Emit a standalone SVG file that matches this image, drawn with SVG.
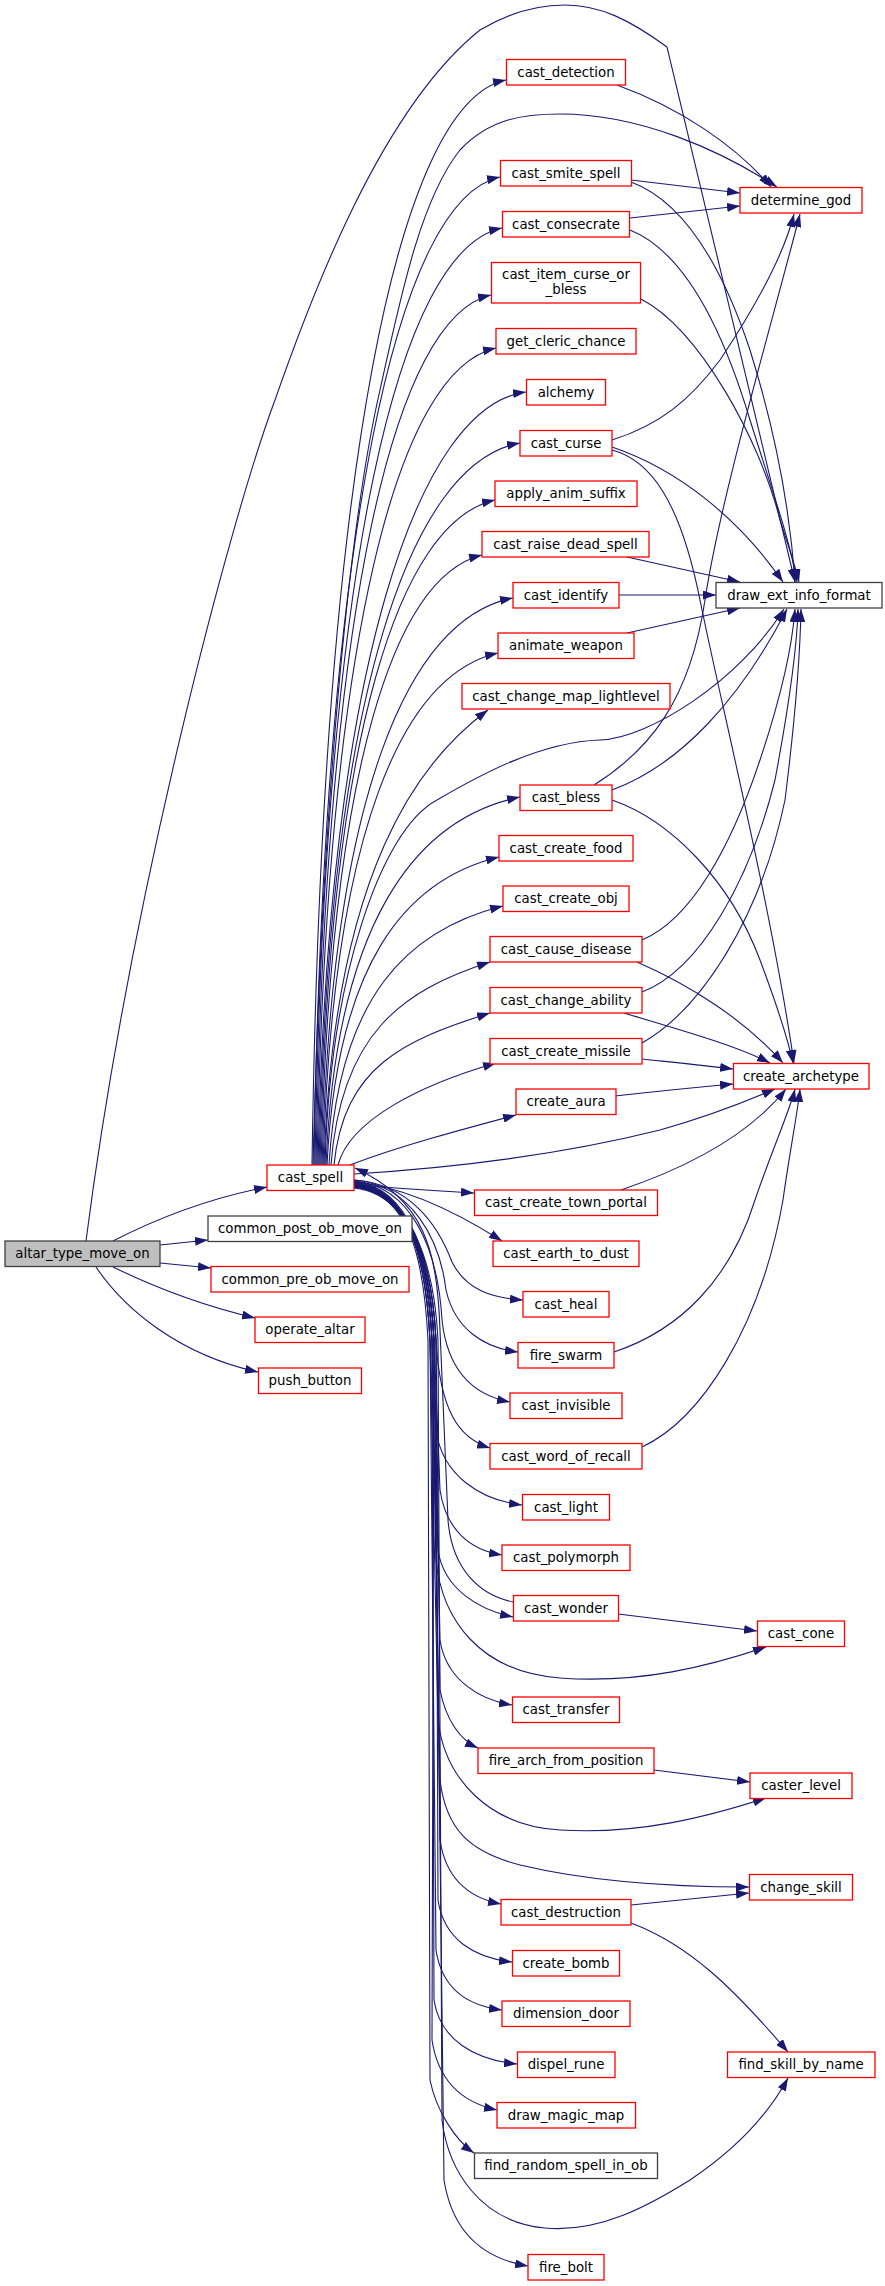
<svg xmlns="http://www.w3.org/2000/svg" width="885" height="2286" viewBox="0 0 885 2286">
<defs>
<style>
.n rect{fill:#ffffff;stroke:#ff0000;stroke-width:1.3}
.b rect{fill:#ffffff;stroke:#404040;stroke-width:1.3}
.g rect{fill:#bfbfbf;stroke:#404040;stroke-width:1.3}
text{font-family:"DejaVu Sans","Liberation Sans",sans-serif;font-size:13.33px;fill:#000;text-anchor:middle}
#edges path{fill:none;stroke:#191970;stroke-width:1.1;marker-end:url(#a)}
</style>
<marker id="a" markerWidth="13" markerHeight="9" refX="13" refY="4.5" orient="auto" markerUnits="userSpaceOnUse"><path d="M0,0 L13,4.5 L0,9 z" fill="#191970"/></marker>
</defs>
<rect width="885" height="2286" fill="#ffffff"/>
<g id="edges">
<path d="M113,1241 C150,1222 200,1200 267,1187"/>
<path d="M160,1245 L208,1240"/>
<path d="M160,1263 L211,1268"/>
<path d="M113,1267 C150,1285 200,1305 255,1318"/>
<path d="M96,1267 C125,1310 180,1355 258,1372"/>
<path d="M86,1241 C130,900 230,520 275,400 C310,300 380,110 480,30 C510,12 540,5 565,5 C600,5 630,20 667,47 C700,190 760,430 795,582"/>
<path d="M312,1165 C322,460 399,102 506,80"/>
<path d="M313,1165 C322,800 350,520 380,390 C400,300 420,200 460,150 C490,118 525,114 560,114 C640,114 720,150 777,187"/>
<path d="M314,1165 C324,523 398,199 500,177"/>
<path d="M315,1165 C325,556 399,250 502,228"/>
<path d="M316,1165 C326,600 395,317 491,295"/>
<path d="M317,1165 C327,634 398,370 496,348"/>
<path d="M318,1165 C328,662 420,405 526,392"/>
<path d="M319,1165 C329,696 410,463 520,443"/>
<path d="M320,1165 C330,733 399,522 495,500"/>
<path d="M321,1165 C331,768 394,577 482,555"/>
<path d="M322,1165 C332,796 408,618 513,598"/>
<path d="M323,1165 C333,832 402,675 498,653"/>
<path d="M324,1165 C334,869 420,760 488,710"/>
<path d="M325,1165 C330,980 380,830 437,800 C480,775 540,742 600,740 C650,738 740,680 784,609"/>
<path d="M326,1165 C336,926 413,819 520,797"/>
<path d="M327,1165 C337,965 404,880 499,857"/>
<path d="M329,1165 C339,997 407,930 503,906"/>
<path d="M331,1165 C341,1033 403,990 490,962"/>
<path d="M334,1165 C344,1066 404,1040 490,1013"/>
<path d="M338,1165 C350,1120 420,1085 496,1063"/>
<path d="M350,1165 C400,1146 460,1130 516,1115"/>
<path d="M354,1174 C450,1168 560,1155 660,1130 C710,1116 745,1102 775,1089"/>
<path d="M513,1602 C480,1595 452,1570 448,1520 L440,1330 C437,1250 425,1200 355,1168"/>
<path d="M354,1185 C390,1188 430,1190 474,1193"/>
<path d="M354,1182 C400,1186 450,1208 502,1241"/>
<path d="M354,1180 C410,1184 438,1225 452,1262 C466,1290 492,1298 523,1300"/>
<path d="M354,1180 C412,1185 440,1240 446,1290 C455,1330 485,1348 518,1352"/>
<path d="M354,1181 C412,1186 438,1250 442,1320 C448,1375 478,1396 510,1402"/>
<path d="M354,1181 C410,1187 432,1260 436,1340 C440,1410 458,1438 490,1448"/>
<path d="M354,1182 C410,1188 428,1260 432,1340 L436,1430 C442,1475 480,1500 522,1505"/>
<path d="M354,1182 C410,1188 430,1260 434,1340 L440,1490 C446,1530 470,1550 502,1555"/>
<path d="M354,1183 C410,1189 426,1260 430,1340 L438,1550 C444,1590 480,1610 513,1617"/>
<path d="M354,1183 C410,1189 428,1260 432,1340 L436,1560 C442,1620 480,1672 560,1678 C640,1684 710,1666 766,1647"/>
<path d="M354,1184 C410,1190 430,1260 434,1340 L440,1640 C446,1680 480,1700 512,1705"/>
<path d="M354,1184 C410,1190 432,1260 436,1340 L440,1690 C446,1720 460,1740 478,1748"/>
<path d="M354,1184 C410,1190 426,1260 430,1340 L438,1720 C445,1780 490,1826 560,1830 C640,1835 710,1816 766,1798"/>
<path d="M354,1185 C410,1191 428,1260 432,1340 L440,1780 C446,1830 470,1852 520,1865 C600,1884 690,1887 749,1887"/>
<path d="M354,1185 C410,1191 430,1260 434,1340 L440,1840 C446,1880 470,1898 501,1904"/>
<path d="M354,1186 C410,1192 432,1260 436,1340 L438,1900 C444,1940 475,1958 512,1962"/>
<path d="M354,1186 C410,1192 426,1260 430,1340 L436,1950 C442,1990 470,2006 502,2010"/>
<path d="M354,1186 C410,1192 428,1260 432,1340 L434,2000 C440,2040 475,2060 517,2064"/>
<path d="M354,1187 C410,1193 430,1260 434,1340 L432,2040 C438,2080 460,2102 497,2110"/>
<path d="M354,1187 C410,1193 424,1260 428,1340 L430,2080 C436,2110 455,2140 474,2153"/>
<path d="M354,1187 C410,1193 434,1260 438,1340 L442,2120 C448,2170 480,2222 545,2228 C600,2233 650,2205 690,2180 C735,2150 768,2115 788,2078"/>
<path d="M354,1188 C410,1194 430,1260 434,1340 L444,2180 C452,2230 480,2258 528,2266"/>
<path d="M617,85 C680,108 735,145 771,187"/>
<path d="M631,180 L740,193"/>
<path d="M630,218 L740,206"/>
<path d="M631,182 C680,200 720,260 750,350 C775,430 790,510 795,582"/>
<path d="M630,230 C680,250 720,320 750,420 C772,490 790,540 797,582"/>
<path d="M641,299 C700,330 760,440 780,520 C788,545 795,565 799,582"/>
<path d="M612,447 C680,470 740,520 783,582"/>
<path d="M612,440 C660,425 690,400 720,360 C760,300 785,250 794,214"/>
<path d="M612,450 C650,460 680,500 700,600 C720,700 770,900 794,1063"/>
<path d="M627,557 L740,582"/>
<path d="M619,595 L716,595"/>
<path d="M627,633 L740,608"/>
<path d="M594,785 C650,750 690,700 705,600 C720,500 770,330 800,214"/>
<path d="M612,790 C680,765 740,700 787,609"/>
<path d="M612,800 C670,820 730,880 760,960 C775,1000 788,1040 793,1063"/>
<path d="M642,940 C690,920 730,850 760,760 C780,700 792,650 795,609"/>
<path d="M642,992 C700,970 750,880 775,780 C790,700 797,650 798,609"/>
<path d="M642,1043 C700,1010 760,920 785,800 C795,720 800,660 801,609"/>
<path d="M637,962 C690,985 745,1020 783,1063"/>
<path d="M624,1013 C680,1030 735,1045 770,1063"/>
<path d="M642,1059 C680,1063 710,1066 733,1069"/>
<path d="M615,1096 C660,1091 700,1087 733,1084"/>
<path d="M621,1190 C680,1170 745,1140 786,1089"/>
<path d="M614,1352 C680,1330 730,1280 755,1200 C772,1150 790,1110 795,1089"/>
<path d="M642,1447 C700,1420 760,1330 783,1200 C790,1150 798,1110 800,1089"/>
<path d="M618,1614 L757,1631"/>
<path d="M654,1770 L750,1782"/>
<path d="M631,1905 L749,1893"/>
<path d="M631,1923 C690,1945 735,1990 788,2052"/>
</g>
<g id="altar_type_move_on" class="g"><rect x="5" y="1241" width="155" height="25.5"/><text x="82.5" y="1258.3">altar_type_move_on</text></g>
<g id="cast_spell" class="n"><rect x="267" y="1165" width="87" height="25.5"/><text x="310.5" y="1182.3">cast_spell</text></g>
<g id="common_post_ob_move_on" class="b"><rect x="208" y="1216" width="204" height="25.5"/><text x="310" y="1233.3">common_post_ob_move_on</text></g>
<g id="common_pre_ob_move_on" class="n"><rect x="211" y="1266.5" width="198" height="25.5"/><text x="310" y="1283.8">common_pre_ob_move_on</text></g>
<g id="operate_altar" class="n"><rect x="255" y="1317" width="110" height="25.5"/><text x="310" y="1334.3">operate_altar</text></g>
<g id="push_button" class="n"><rect x="258.5" y="1368" width="103" height="25.5"/><text x="310" y="1385.3">push_button</text></g>
<g id="cast_detection" class="n"><rect x="506.5" y="59.5" width="119" height="25.5"/><text x="566" y="76.8">cast_detection</text></g>
<g id="cast_smite_spell" class="n"><rect x="500.5" y="160.5" width="131" height="25.5"/><text x="566" y="177.8">cast_smite_spell</text></g>
<g id="cast_consecrate" class="n"><rect x="502.5" y="211.5" width="127" height="25.5"/><text x="566" y="228.8">cast_consecrate</text></g>
<g id="cast_item_curse_or_bless" class="n"><rect x="491.5" y="262.5" width="149" height="40.5"/><text x="566" y="279.3">cast_item_curse_or</text><text x="566" y="294.3">_bless</text></g>
<g id="get_cleric_chance" class="n"><rect x="496" y="328.5" width="140" height="25.5"/><text x="566" y="345.8">get_cleric_chance</text></g>
<g id="alchemy" class="n"><rect x="526.5" y="379.5" width="79" height="25.5"/><text x="566" y="396.8">alchemy</text></g>
<g id="cast_curse" class="n"><rect x="520" y="430.5" width="92" height="25.5"/><text x="566" y="447.8">cast_curse</text></g>
<g id="apply_anim_suffix" class="n"><rect x="495" y="481" width="142" height="25.5"/><text x="566" y="498.3">apply_anim_suffix</text></g>
<g id="cast_raise_dead_spell" class="n"><rect x="482" y="531.5" width="167" height="25.5"/><text x="565.5" y="548.8">cast_raise_dead_spell</text></g>
<g id="cast_identify" class="n"><rect x="513" y="582.5" width="106" height="25.5"/><text x="566" y="599.8">cast_identify</text></g>
<g id="animate_weapon" class="n"><rect x="498" y="633" width="136" height="25.5"/><text x="566" y="650.3">animate_weapon</text></g>
<g id="cast_change_map_lightlevel" class="n"><rect x="462" y="683.5" width="208" height="25.5"/><text x="566" y="700.8">cast_change_map_lightlevel</text></g>
<g id="cast_bless" class="n"><rect x="520" y="785" width="92" height="25.5"/><text x="566" y="802.3">cast_bless</text></g>
<g id="cast_create_food" class="n"><rect x="499" y="835.5" width="134" height="25.5"/><text x="566" y="852.8">cast_create_food</text></g>
<g id="cast_create_obj" class="n"><rect x="503" y="886" width="126" height="25.5"/><text x="566" y="903.3">cast_create_obj</text></g>
<g id="cast_cause_disease" class="n"><rect x="490" y="936.5" width="152" height="25.5"/><text x="566" y="953.8">cast_cause_disease</text></g>
<g id="cast_change_ability" class="n"><rect x="490" y="987.5" width="152" height="25.5"/><text x="566" y="1004.8">cast_change_ability</text></g>
<g id="cast_create_missile" class="n"><rect x="490" y="1038.5" width="152" height="25.5"/><text x="566" y="1055.8">cast_create_missile</text></g>
<g id="create_aura" class="n"><rect x="516" y="1089" width="100" height="25.5"/><text x="566" y="1106.3">create_aura</text></g>
<g id="cast_create_town_portal" class="n"><rect x="474.5" y="1190" width="183" height="25.5"/><text x="566" y="1207.3">cast_create_town_portal</text></g>
<g id="cast_earth_to_dust" class="n"><rect x="493" y="1241" width="146" height="25.5"/><text x="566" y="1258.3">cast_earth_to_dust</text></g>
<g id="cast_heal" class="n"><rect x="523" y="1291.5" width="86" height="25.5"/><text x="566" y="1308.8">cast_heal</text></g>
<g id="fire_swarm" class="n"><rect x="518" y="1342.5" width="96" height="25.5"/><text x="566" y="1359.8">fire_swarm</text></g>
<g id="cast_invisible" class="n"><rect x="510" y="1393" width="112" height="25.5"/><text x="566" y="1410.3">cast_invisible</text></g>
<g id="cast_word_of_recall" class="n"><rect x="490" y="1443.5" width="152" height="25.5"/><text x="566" y="1460.8">cast_word_of_recall</text></g>
<g id="cast_light" class="n"><rect x="522.5" y="1494.5" width="87" height="25.5"/><text x="566" y="1511.8">cast_light</text></g>
<g id="cast_polymorph" class="n"><rect x="502" y="1545" width="128" height="25.5"/><text x="566" y="1562.3">cast_polymorph</text></g>
<g id="cast_wonder" class="n"><rect x="513.5" y="1595.5" width="105" height="25.5"/><text x="566" y="1612.8">cast_wonder</text></g>
<g id="cast_transfer" class="n"><rect x="512.5" y="1697" width="107" height="25.5"/><text x="566" y="1714.3">cast_transfer</text></g>
<g id="fire_arch_from_position" class="n"><rect x="478" y="1748" width="176" height="25.5"/><text x="566" y="1765.3">fire_arch_from_position</text></g>
<g id="cast_destruction" class="n"><rect x="501" y="1899.5" width="130" height="25.5"/><text x="566" y="1916.8">cast_destruction</text></g>
<g id="create_bomb" class="n"><rect x="512.5" y="1950.5" width="107" height="25.5"/><text x="566" y="1967.8">create_bomb</text></g>
<g id="dimension_door" class="n"><rect x="502" y="2001" width="128" height="25.5"/><text x="566" y="2018.3">dimension_door</text></g>
<g id="dispel_rune" class="n"><rect x="517.5" y="2052" width="97.5" height="25.5"/><text x="566" y="2069.3">dispel_rune</text></g>
<g id="draw_magic_map" class="n"><rect x="497" y="2102.5" width="138.5" height="25.5"/><text x="566" y="2119.8">draw_magic_map</text></g>
<g id="find_random_spell_in_ob" class="b"><rect x="474.5" y="2153" width="183" height="25.5"/><text x="566" y="2170.3">find_random_spell_in_ob</text></g>
<g id="fire_bolt" class="n"><rect x="528" y="2254.5" width="76" height="25.5"/><text x="566" y="2271.8">fire_bolt</text></g>
<g id="determine_god" class="n"><rect x="740" y="187.5" width="122" height="25.5"/><text x="801" y="204.8">determine_god</text></g>
<g id="draw_ext_info_format" class="b"><rect x="716" y="582.5" width="166" height="25.5"/><text x="799" y="599.8">draw_ext_info_format</text></g>
<g id="create_archetype" class="n"><rect x="733.5" y="1063.5" width="135.5" height="25.5"/><text x="801" y="1080.8">create_archetype</text></g>
<g id="cast_cone" class="n"><rect x="757.5" y="1621" width="87" height="25.5"/><text x="801" y="1638.3">cast_cone</text></g>
<g id="caster_level" class="n"><rect x="750" y="1773" width="102" height="25.5"/><text x="801" y="1790.3">caster_level</text></g>
<g id="change_skill" class="n"><rect x="749.5" y="1874.5" width="103" height="25.5"/><text x="801" y="1891.8">change_skill</text></g>
<g id="find_skill_by_name" class="n"><rect x="727.5" y="2052" width="147.5" height="25.5"/><text x="801" y="2069.3">find_skill_by_name</text></g>
</svg>
